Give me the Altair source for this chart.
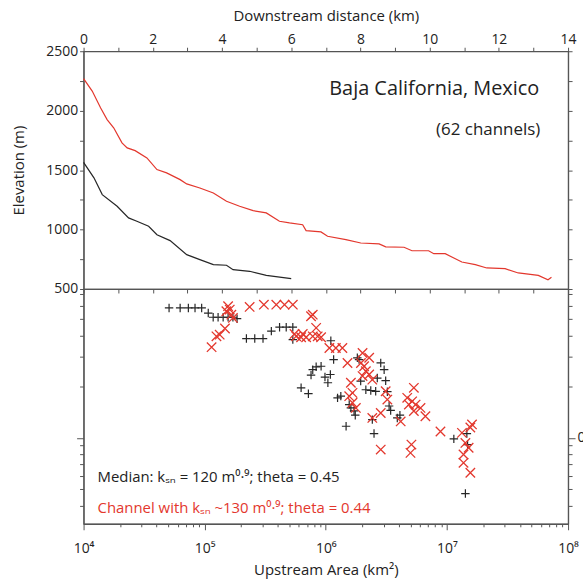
import altair as alt
import pandas as pd

# ---------------- data ----------------
red_dist = [0, 0.25, 0.49, 0.68, 0.87, 1.11, 1.26, 1.49, 1.83, 2.12, 2.4, 2.79, 2.98, 3.36,
            3.75, 4.13, 4.51, 4.9, 5.28, 5.66, 5.95, 6.33, 6.43, 6.86, 7.05, 7.58, 8.01,
            8.54, 8.73, 9.26, 9.49, 9.97, 10.12, 10.45, 10.93, 11.32, 11.65, 12.18, 12.56,
            13.14, 13.42, 13.52]
red_elev = [2270, 2165, 2024, 1925, 1856, 1729, 1687, 1664, 1603, 1505, 1477, 1420, 1384, 1350,
            1308, 1238, 1196, 1159, 1140, 1070, 1056, 1041, 991, 980, 944, 915, 887,
            879, 854, 851, 822, 822, 797, 797, 727, 705, 677, 671, 635,
            615, 578, 598]
black_dist = [0, 0.3, 0.54, 0.97, 1.3, 1.54, 1.88, 2.12, 2.5, 2.98, 3.36, 3.75, 4.13, 4.32,
              4.8, 5.28, 6.0]
black_elev = [1565, 1435, 1294, 1196, 1098, 1070, 1028, 957, 907, 789, 747, 705, 700, 663,
              649, 615, 587]

black_area = [5.08e4, 6.27e4, 7.33e4, 8.32e4, 9.44e4, 1.07e5, 1.175e5, 1.29e5, 1.42e5, 1.56e5,
              1.71e5, 1.85e5, 2.21e5, 2.59e5, 3.03e5, 3.55e5, 4.15e5, 4.71e5, 5.34e5, 5.34e5,
              1.10e6, 1.16e6, 9.14e5, 8.32e5, 7.80e5, 7.55e5, 9.84e5, 1.09e6, 1.04e6, 6.25e5,
              7.18e5, 1.25e6, 1.33e6, 1.47e6, 1.82e6, 1.88e6, 2.84e6, 3.03e6, 2.66e6, 3.12e6,
              1.94e6, 2.14e6, 2.35e6, 2.58e6, 3.22e6, 1.56e6, 1.61e6, 1.71e6, 1.75e6, 3.33e6,
              3.43e6, 2.42e6, 2.50e6, 3.89e6, 4.09e6, 1.14e7, 1.46e7, 1.48e7, 1.42e7]
black_slope = [0.582, 0.582, 0.582, 0.582, 0.582, 0.543, 0.513, 0.513, 0.513, 0.513,
               0.513, 0.503, 0.384, 0.384, 0.384, 0.425, 0.448, 0.448, 0.448, 0.379,
               0.373, 0.289, 0.264, 0.262, 0.252, 0.234, 0.228, 0.236, 0.211, 0.197,
               0.182, 0.172, 0.176, 0.117, 0.296, 0.289, 0.276, 0.252, 0.225, 0.217,
               0.216, 0.192, 0.190, 0.188, 0.187, 0.157, 0.150, 0.144, 0.136, 0.154,
               0.145, 0.128, 0.106, 0.131, 0.136, 0.0986, 0.106, 0.0913, 0.047]

red_area = [1.14e5, 1.25e5, 1.33e5, 1.47e5, 1.56e5, 1.61e5, 1.51e5, 1.66e5, 1.71e5, 2.35e5,
            3.08e5, 3.90e5, 4.56e5, 5.34e5, 7.80e5, 7.55e5, 8.32e5, 5.69e5, 6.25e5, 6.88e5,
            7.80e5, 8.57e5, 9.14e5, 5.51e5, 6.45e5, 1.07e6, 1.21e6, 1.37e6, 1.51e6, 2.01e6,
            2.28e6, 1.95e6, 2.07e6, 2.14e6, 2.28e6, 2.01e6, 2.42e6, 1.61e6, 1.66e6, 1.56e6,
            1.66e6, 1.77e6, 3.12e6, 3.22e6, 2.84e6, 2.42e6, 4.15e6, 5.33e6, 4.70e6, 5.16e6,
            5.51e6, 6.05e6, 5.33e6, 6.64e6, 4.85e6, 8.84e6, 2.84e6, 5.09e6, 5.00e6, 1.33e7,
            1.42e7, 1.37e7, 1.51e7, 1.61e7, 1.56e7, 1.37e7, 1.56e7]
red_slope = [0.342, 0.396, 0.405, 0.440, 0.596, 0.569, 0.556, 0.531, 0.508, 0.590,
             0.608, 0.608, 0.608, 0.608, 0.531, 0.520, 0.444, 0.396, 0.391, 0.391,
             0.396, 0.396, 0.391, 0.409, 0.409, 0.338, 0.338, 0.338, 0.276, 0.316,
             0.296, 0.276, 0.264, 0.247, 0.236, 0.231, 0.220, 0.211, 0.184, 0.176,
             0.161, 0.150, 0.188, 0.168, 0.140, 0.131, 0.125, 0.197, 0.172, 0.164,
             0.157, 0.150, 0.144, 0.134, 0.157, 0.109, 0.0853, 0.0913, 0.0816, 0.107,
             0.0934, 0.0798, 0.0874, 0.120, 0.115, 0.0713, 0.0623]

dist_ticks = list(range(0, 15))
elev_ticks = list(range(500, 2501, 250))
area_major = [10000, 100000, 1000000, 10000000, 100000000]
area_major_labels = ["10⁴", "10⁵", "10⁶", "10⁷", "10⁸"]
area_ticks = [k * 10 ** e for e in range(4, 8) for k in range(1, 10)] + [10 ** 8]
slope_ticks = [0.04, 0.05, 0.06, 0.07, 0.08, 0.09, 0.1, 0.2, 0.3, 0.4, 0.5, 0.6, 0.7]

region_label = "Baja California, Mexico"
count_label = "(62 channels)"
median_label = "Median:  kₛₙ = 120 m⁰·⁹; theta = 0.45"
channel_label = "Channel with kₛₙ ~130 m⁰·⁹; theta = 0.44"

FONT = "Open Sans"
RED = "#e3372d"
BLACK = "#262626"
AXC = "#555555"
W = 487
H_TOP = 239
H_BOT = 236

# ---------------- top panel ----------------
prof = pd.DataFrame({
    "dist": red_dist + black_dist,
    "elev": red_elev + black_elev,
    "channel": ["red"] * len(red_dist) + ["black"] * len(black_dist),
})
xs_top = alt.Scale(domain=[0, 14], nice=False, zero=False)
ys_top = alt.Scale(domain=[500, 2500], nice=False, zero=False)

lines = alt.Chart(prof).mark_line(strokeWidth=1.2).encode(
    x=alt.X("dist:Q", scale=xs_top,
            axis=alt.Axis(orient="top", values=dist_ticks,
                          labelExpr="datum.value % 2 == 0 ? datum.label : ''",
                          title="Downstream distance (km)", tickSize=4, labelPadding=1,
                          titlePadding=9, labelFlush=False, labelOverlap=False)),
    y=alt.Y("elev:Q", scale=ys_top,
            axis=alt.Axis(orient="left", values=elev_ticks, format="d",
                          labelExpr="datum.value % 500 == 0 ? datum.label : ''",
                          title="Elevation (m)", tickSize=4, labelPadding=2,
                          titlePadding=19, labelOverlap=False)),
    color=alt.Color("channel:N", scale=alt.Scale(domain=["red", "black"], range=[RED, BLACK]),
                    legend=None),
    detail="channel:N",
)
frame_top = alt.Chart(prof).mark_point(opacity=0).encode(
    x=alt.X("dist:Q", scale=xs_top,
            axis=alt.Axis(orient="bottom", values=dist_ticks, labels=False, title=None,
                          tickSize=4)),
    y=alt.Y("elev:Q", scale=ys_top,
            axis=alt.Axis(orient="right", values=elev_ticks, labels=False, title=None,
                          tickSize=4)),
)
t_region = alt.Chart(pd.DataFrame({"t": [region_label]})).mark_text(
    font=FONT, fontSize=20, align="right", baseline="middle", color="#222"
).encode(x=alt.value(458), y=alt.value(38), text="t:N")
t_count = alt.Chart(pd.DataFrame({"t": [count_label]})).mark_text(
    font=FONT, fontSize=17, align="right", baseline="middle", color="#222"
).encode(x=alt.value(459), y=alt.value(79), text="t:N")

top = alt.layer(lines, frame_top, t_region, t_count).resolve_scale(
    x="independent", y="independent").properties(width=W, height=H_TOP)

# ---------------- bottom panel ----------------
pts = pd.DataFrame({
    "area": black_area + red_area,
    "slope": black_slope + red_slope,
    "set": ["black"] * len(black_area) + ["red"] * len(red_area),
})
xs_bot = alt.Scale(type="log", domain=[1e4, 1e8], nice=False)
ys_bot = alt.Scale(type="log", domain=[0.0312, 0.752], nice=False)

major_test = "indexof([" + ",".join(str(v) for v in area_major) + "], datum.value) >= 0"
lab_expr = "".join(f"datum.value == {v} ? '{l}' : " for v, l in zip(area_major, area_major_labels)) + "''"

PLUS = "M-1,0L1,0M0,-1L0,1"
CROSS = "M-1,-1L1,1M-1,1L1,-1"

black_pts = alt.Chart(pts).transform_filter("datum.set == 'black'").mark_point(
    shape=PLUS, filled=False, strokeWidth=1.2, size=72, color=BLACK, opacity=1
).encode(
    x=alt.X("area:Q", scale=xs_bot,
            axis=alt.Axis(orient="bottom", values=area_ticks, labelExpr=lab_expr,
                          title="Upstream Area (km²)",
                          tickSize={"condition": {"test": major_test, "value": 6}, "value": 3},
                          labelPadding=12, titlePadding=7, labelFlush=False, labelOverlap=False)),
    y=alt.Y("slope:Q", scale=ys_bot,
            axis=alt.Axis(orient="right", values=slope_ticks,
                          labelExpr="datum.value == 0.1 ? '0.1' : ''",
                          title=None,
                          tickSize={"condition": {"test": "datum.value == 0.1", "value": 7}, "value": 4},
                          labelPadding=2, labelOverlap=False)),
)
red_pts = alt.Chart(pts).transform_filter("datum.set == 'red'").mark_point(
    shape=CROSS, filled=False, strokeWidth=1.3, size=90, color=RED, opacity=1
).encode(
    x=alt.X("area:Q", scale=xs_bot),
    y=alt.Y("slope:Q", scale=ys_bot, axis=None),
)
frame_bot = alt.Chart(pts).mark_point(opacity=0).encode(
    y=alt.Y("slope:Q", scale=ys_bot,
            axis=alt.Axis(orient="left", values=slope_ticks, labels=False, title=None,
                          tickSize={"condition": {"test": "datum.value == 0.1", "value": 7}, "value": 4})),
)
t_med = alt.Chart(pd.DataFrame({"t": [median_label]})).mark_text(
    font=FONT, fontSize=15, align="left", baseline="middle", color="#222"
).encode(x=alt.value(14), y=alt.value(189), text="t:N")
t_chan = alt.Chart(pd.DataFrame({"t": [channel_label]})).mark_text(
    font=FONT, fontSize=15, align="left", baseline="middle", color=RED
).encode(x=alt.value(14), y=alt.value(220), text="t:N")

bottom = alt.layer(black_pts, red_pts, frame_bot, t_med, t_chan).resolve_scale(
    y="independent").properties(width=W, height=H_BOT)

chart = alt.vconcat(top, bottom, spacing=0, bounds="flush").properties(
    padding={"left": 11, "top": 6, "right": -15, "bottom": 0}
).configure_view(
    stroke=AXC, strokeWidth=1.2
).configure_axis(
    labelFont=FONT, titleFont=FONT, labelFontSize=14, titleFontSize=15,
    titleFontWeight="normal", labelColor="#222", titleColor="#222",
    domainColor=AXC, tickColor=AXC, grid=False, domainWidth=1.2, tickWidth=1
)

chart.save("out.html", embed_options={"renderer": "svg", "actions": False})
